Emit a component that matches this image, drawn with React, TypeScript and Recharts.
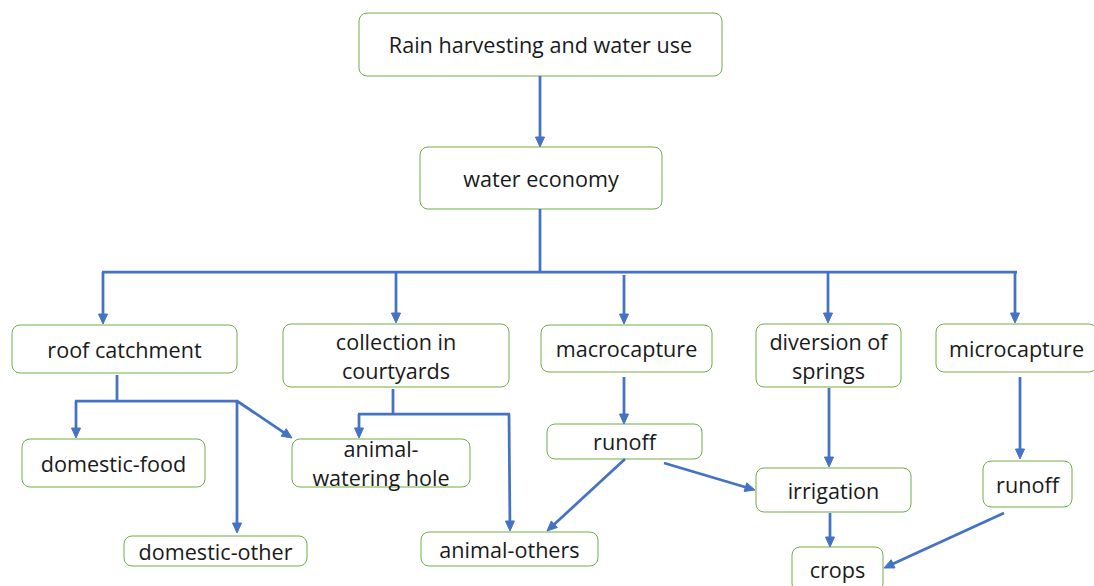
import React from "react";
import { ScatterChart, Scatter, XAxis, YAxis, ReferenceArea, ReferenceLine } from "recharts";

// Diagram nodes: label lines and box extents in diagram coordinates
const nodes = [
  { id: "root", lines: ["Rain harvesting and water use"], x1: 359, x2: 722, y1: 13, y2: 76 },
  { id: "economy", lines: ["water economy"], x1: 420, x2: 662, y1: 147, y2: 209 },
  { id: "roof", lines: ["roof catchment"], x1: 12, x2: 237, y1: 325, y2: 373 },
  { id: "courtyards", lines: ["collection in", "courtyards"], x1: 283, x2: 509, y1: 324, y2: 387 },
  { id: "macro", lines: ["macrocapture"], x1: 541, x2: 712, y1: 325, y2: 372 },
  { id: "springs", lines: ["diversion of", "springs"], x1: 756, x2: 901, y1: 324, y2: 387 },
  { id: "micro", lines: ["microcapture"], x1: 936, x2: 1097, y1: 324, y2: 372 },
  { id: "food", lines: ["domestic-food"], x1: 22, x2: 205, y1: 439, y2: 487 },
  { id: "hole", lines: ["animal-", "watering hole"], x1: 292, x2: 470, y1: 439, y2: 487 },
  { id: "domOther", lines: ["domestic-other"], x1: 124, x2: 307, y1: 536, y2: 566 },
  { id: "animOther", lines: ["animal-others"], x1: 421, x2: 598, y1: 532, y2: 566 },
  { id: "runoff1", lines: ["runoff"], x1: 547, x2: 702, y1: 424, y2: 459 },
  { id: "irrigation", lines: ["irrigation"], x1: 756, x2: 911, y1: 468, y2: 512 },
  { id: "runoff2", lines: ["runoff"], x1: 983, x2: 1072, y1: 461, y2: 507 },
  { id: "crops", lines: ["crops"], x1: 792, x2: 883, y1: 547, y2: 592 },
];

// Connectors: start point, end point, arrow head at end
const connectors = [
  { from: [540, 76], to: [540, 147], head: true },
  { from: [540, 209], to: [540, 272], head: false },
  { from: [102, 272], to: [1017, 272], head: false },
  { from: [103, 272], to: [103, 324], head: true },
  { from: [396, 272], to: [396, 323], head: true },
  { from: [624, 275], to: [624, 324], head: true },
  { from: [828, 272], to: [828, 323], head: true },
  { from: [1015, 272], to: [1015, 323], head: true },
  { from: [117, 375], to: [117, 401], head: false },
  { from: [75, 401], to: [238, 401], head: false },
  { from: [76, 401], to: [76, 438], head: true },
  { from: [237, 401], to: [237, 533], head: true },
  { from: [237, 401], to: [292, 438], head: true },
  { from: [393, 389], to: [393, 414], head: false },
  { from: [358, 414], to: [510, 414], head: false },
  { from: [359, 414], to: [359, 438], head: true },
  { from: [509, 414], to: [510, 531], head: true },
  { from: [624, 377], to: [624, 424], head: true },
  { from: [625, 459], to: [547, 531], head: true },
  { from: [664, 463], to: [755, 490], head: true },
  { from: [829, 388], to: [829, 467], head: true },
  { from: [830, 513], to: [830, 547], head: true },
  { from: [1020, 377], to: [1020, 459], head: true },
  { from: [1004, 513], to: [884, 568], head: true },
];

const W = 1094;
const H = 586;
const BLUE = "#4472C4";
const GREEN = "#70AD47";
const FONT = "'Open Sans', 'DejaVu Sans', sans-serif";

const centers = nodes.map((n) => ({ x: (n.x1 + n.x2) / 2, y: (n.y1 + n.y2) / 2 }));

function BoxShape(props: any) {
  const { x, y, width, height, lines } = props;
  const cx = x + width / 2;
  const cy = y + height / 2;
  const lh = 29;
  const start = cy - ((lines.length - 1) * lh) / 2;
  return (
    <g>
      <rect x={x} y={y} width={width} height={height} rx={8} ry={8} fill="#ffffff" stroke={GREEN} strokeWidth={1} />
      {lines.map((t: string, i: number) => (
        <text
          key={i}
          x={cx}
          y={start + i * lh}
          textAnchor="middle"
          dominantBaseline="central"
          fontFamily={FONT}
          fontSize={21.6}
          fill="#1a1a1a"
        >
          {t}
        </text>
      ))}
    </g>
  );
}

function ArrowShape(props: any) {
  const { x1, y1, x2, y2, head } = props;
  if ([x1, y1, x2, y2].some((v: any) => typeof v !== "number" || isNaN(v))) return <g />;
  const dx = x2 - x1;
  const dy = y2 - y1;
  const len = Math.sqrt(dx * dx + dy * dy) || 1;
  const ux = dx / len;
  const uy = dy / len;
  const L = 10;
  const hw = 4.5;
  const ex = head ? x2 - ux * L * 0.7 : x2;
  const ey = head ? y2 - uy * L * 0.7 : y2;
  const bx = x2 - ux * L;
  const by = y2 - uy * L;
  const px = -uy;
  const py = ux;
  return (
    <g>
      <line x1={x1} y1={y1} x2={ex} y2={ey} stroke={BLUE} strokeWidth={2.75} />
      {head && (
        <polygon
          points={`${x2},${y2} ${bx + px * hw},${by + py * hw} ${bx - px * hw},${by - py * hw}`}
          fill={BLUE}
          stroke={BLUE}
          strokeWidth={1}
        />
      )}
    </g>
  );
}

export default function App() {
  return (
    <div style={{ position: "absolute", left: 0, top: 0, width: W, height: H, background: "#ffffff" }}>
      <ScatterChart width={W} height={H} margin={{ top: 0, right: 0, bottom: 0, left: 0 }}>
        <XAxis type="number" dataKey="x" domain={[0, W]} hide allowDataOverflow />
        <YAxis type="number" dataKey="y" domain={[0, H]} reversed hide allowDataOverflow />
        <Scatter data={centers} isAnimationActive={false} shape={() => <g />} />
        {connectors.map((c, i) => (
          <ReferenceLine
            key={"c" + i}
            segment={[
              { x: c.from[0], y: c.from[1] },
              { x: c.to[0], y: c.to[1] },
            ]}
            ifOverflow="visible"
            shape={(p: any) => <ArrowShape {...p} head={c.head} />}
          />
        ))}
        {nodes.map((n) => (
          <ReferenceArea
            key={n.id}
            x1={n.x1}
            x2={n.x2}
            y1={n.y1}
            y2={n.y2}
            ifOverflow="visible"
            shape={(p: any) => <BoxShape {...p} lines={n.lines} />}
          />
        ))}
      </ScatterChart>
    </div>
  );
}
